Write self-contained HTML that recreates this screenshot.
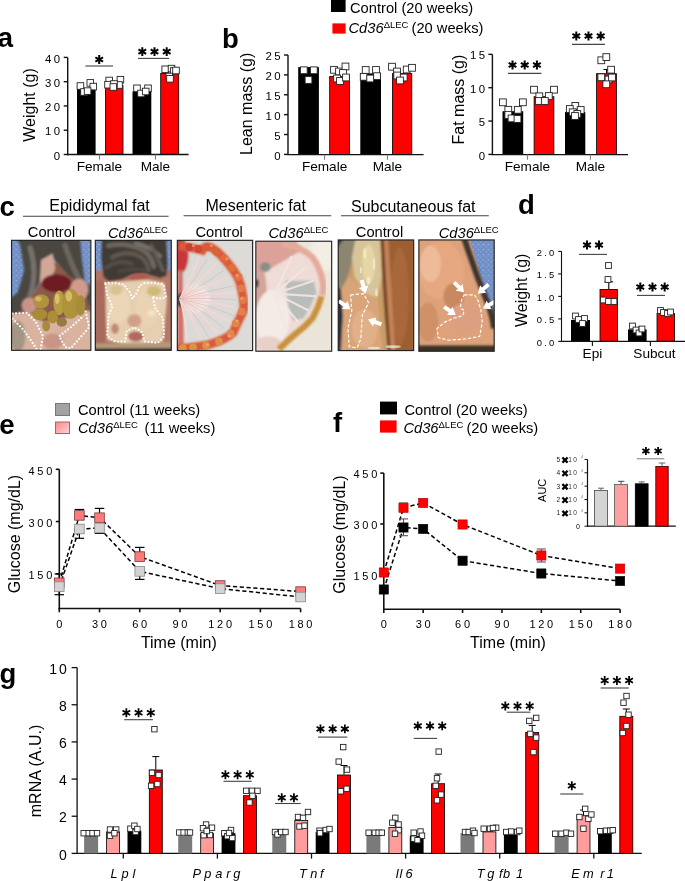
<!DOCTYPE html><html><head><meta charset="utf-8"><style>html,body{margin:0;padding:0;background:#fff;width:685px;height:881px;overflow:hidden}svg{display:block;will-change:transform}text{font-family:"Liberation Sans",sans-serif}</style></head><body>
<svg width="685" height="881" viewBox="0 0 685 881">
<rect width="685" height="881" fill="#fff"/>
<defs><linearGradient id="pinkgrad" x1="0" y1="0" x2="1" y2="1"><stop offset="0" stop-color="#ff8585"/><stop offset="1" stop-color="#ffd4d4"/></linearGradient></defs>
<text x="-2.2" y="47" font-size="27.5" text-anchor="start" font-weight="bold" font-style="normal" fill="#000">a</text>
<text x="222" y="47.7" font-size="27.5" text-anchor="start" font-weight="bold" font-style="normal" fill="#000">b</text>
<text x="-0.5" y="216" font-size="27.5" text-anchor="start" font-weight="bold" font-style="normal" fill="#000">c</text>
<text x="518" y="214" font-size="27.5" text-anchor="start" font-weight="bold" font-style="normal" fill="#000">d</text>
<text x="-0.8" y="434.4" font-size="27.5" text-anchor="start" font-weight="bold" font-style="normal" fill="#000">e</text>
<text x="333" y="432.4" font-size="27.5" text-anchor="start" font-weight="bold" font-style="normal" fill="#000">f</text>
<text x="-0.5" y="683" font-size="27.5" text-anchor="start" font-weight="bold" font-style="normal" fill="#000">g</text>
<line x1="67.7" y1="57.4" x2="67.7" y2="155.2" stroke="#111" stroke-width="1.4"/>
<line x1="63.7" y1="57.39999999999999" x2="67.7" y2="57.39999999999999" stroke="#111" stroke-width="1.4"/>
<text x="62.40" y="62.50" font-size="11.4" text-anchor="end" letter-spacing="2.4">40</text>
<line x1="63.7" y1="81.675" x2="67.7" y2="81.675" stroke="#111" stroke-width="1.4"/>
<text x="62.40" y="86.77" font-size="11.4" text-anchor="end" letter-spacing="2.4">30</text>
<line x1="63.7" y1="105.94999999999999" x2="67.7" y2="105.94999999999999" stroke="#111" stroke-width="1.4"/>
<text x="62.40" y="111.05" font-size="11.4" text-anchor="end" letter-spacing="2.4">20</text>
<line x1="63.7" y1="130.225" x2="67.7" y2="130.225" stroke="#111" stroke-width="1.4"/>
<text x="62.40" y="135.32" font-size="11.4" text-anchor="end" letter-spacing="2.4">10</text>
<line x1="63.7" y1="154.5" x2="67.7" y2="154.5" stroke="#111" stroke-width="1.4"/>
<text x="62.40" y="159.60" font-size="11.4" text-anchor="end" letter-spacing="2.4">0</text>
<text x="34.6" y="105" font-size="16" text-anchor="middle" font-weight="normal" font-style="normal" fill="#000" transform="rotate(-90 34.6 105)">Weight (g)</text>
<rect x="77.00" y="89.00" width="18.60" height="65.50" fill="#000"/>
<rect x="105.40" y="85.40" width="17.60" height="69.10" fill="#ff0000" stroke="#000" stroke-width="0.8"/>
<rect x="132.50" y="91.50" width="18.80" height="63.00" fill="#000"/>
<rect x="160.70" y="73.50" width="18.00" height="81.00" fill="#ff0000" stroke="#000" stroke-width="0.8"/>
<line x1="67.0" y1="154.5" x2="188.6" y2="154.5" stroke="#111" stroke-width="1.4"/>
<line x1="99.4" y1="154.5" x2="99.4" y2="159.7" stroke="#777" stroke-width="1.0"/>
<line x1="155.4" y1="154.5" x2="155.4" y2="159.7" stroke="#777" stroke-width="1.0"/>
<text x="99.4" y="171" font-size="13.6" text-anchor="middle" font-weight="normal" font-style="normal" fill="#000">Female</text>
<text x="155.4" y="171" font-size="13.6" text-anchor="middle" font-weight="normal" font-style="normal" fill="#000">Male</text>
<rect x="77.10" y="82.70" width="6.60" height="6.60" fill="#fff" stroke="#222" stroke-width="0.9"/>
<rect x="87.00" y="79.60" width="6.60" height="6.60" fill="#fff" stroke="#222" stroke-width="0.9"/>
<rect x="90.00" y="83.30" width="6.60" height="6.60" fill="#fff" stroke="#222" stroke-width="0.9"/>
<rect x="80.70" y="88.70" width="6.60" height="6.60" fill="#fff" stroke="#222" stroke-width="0.9"/>
<rect x="84.30" y="87.80" width="6.60" height="6.60" fill="#fff" stroke="#222" stroke-width="0.9"/>
<rect x="105.90" y="77.20" width="6.60" height="6.60" fill="#fff" stroke="#222" stroke-width="0.9"/>
<rect x="117.10" y="76.40" width="6.60" height="6.60" fill="#fff" stroke="#222" stroke-width="0.9"/>
<rect x="104.70" y="81.40" width="6.60" height="6.60" fill="#fff" stroke="#222" stroke-width="0.9"/>
<rect x="115.70" y="81.70" width="6.60" height="6.60" fill="#fff" stroke="#222" stroke-width="0.9"/>
<rect x="110.70" y="80.70" width="6.60" height="6.60" fill="#fff" stroke="#222" stroke-width="0.9"/>
<rect x="110.00" y="83.70" width="6.60" height="6.60" fill="#fff" stroke="#222" stroke-width="0.9"/>
<rect x="133.70" y="85.00" width="6.60" height="6.60" fill="#fff" stroke="#222" stroke-width="0.9"/>
<rect x="144.70" y="85.00" width="6.60" height="6.60" fill="#fff" stroke="#222" stroke-width="0.9"/>
<rect x="137.70" y="90.20" width="6.60" height="6.60" fill="#fff" stroke="#222" stroke-width="0.9"/>
<rect x="142.40" y="88.20" width="6.60" height="6.60" fill="#fff" stroke="#222" stroke-width="0.9"/>
<rect x="161.90" y="66.00" width="6.60" height="6.60" fill="#fff" stroke="#222" stroke-width="0.9"/>
<rect x="168.20" y="65.30" width="6.60" height="6.60" fill="#fff" stroke="#222" stroke-width="0.9"/>
<rect x="170.40" y="67.70" width="6.60" height="6.60" fill="#fff" stroke="#222" stroke-width="0.9"/>
<rect x="172.70" y="67.20" width="6.60" height="6.60" fill="#fff" stroke="#222" stroke-width="0.9"/>
<rect x="166.00" y="73.20" width="6.60" height="6.60" fill="#fff" stroke="#222" stroke-width="0.9"/>
<rect x="166.70" y="75.50" width="6.60" height="6.60" fill="#fff" stroke="#222" stroke-width="0.9"/>
<line x1="85.4" y1="66" x2="113" y2="66" stroke="#444" stroke-width="1.1"/>
<path d="M99.20 55.05L99.20 63.95M103.05 57.27L95.35 61.73M103.05 61.73L95.35 57.27" stroke="#000" stroke-width="2.0" stroke-linecap="butt" fill="none"/>
<line x1="138" y1="58.4" x2="169" y2="58.4" stroke="#444" stroke-width="1.1"/>
<path d="M142.30 47.15L142.30 56.05M146.15 49.38L138.45 53.83M146.15 53.83L138.45 49.38" stroke="#000" stroke-width="2.0" stroke-linecap="butt" fill="none"/>
<path d="M154.50 47.15L154.50 56.05M158.35 49.38L150.65 53.83M158.35 53.83L150.65 49.38" stroke="#000" stroke-width="2.0" stroke-linecap="butt" fill="none"/>
<path d="M166.70 47.15L166.70 56.05M170.55 49.38L162.85 53.83M170.55 53.83L162.85 49.38" stroke="#000" stroke-width="2.0" stroke-linecap="butt" fill="none"/>
<line x1="288" y1="55" x2="288" y2="155.1" stroke="#111" stroke-width="1.4"/>
<line x1="284" y1="55.0" x2="288" y2="55.0" stroke="#111" stroke-width="1.4"/>
<text x="282.90" y="60.10" font-size="11.4" text-anchor="end" letter-spacing="2.4">25</text>
<line x1="284" y1="74.88000000000001" x2="288" y2="74.88000000000001" stroke="#111" stroke-width="1.4"/>
<text x="282.90" y="79.98" font-size="11.4" text-anchor="end" letter-spacing="2.4">20</text>
<line x1="284" y1="94.76" x2="288" y2="94.76" stroke="#111" stroke-width="1.4"/>
<text x="282.90" y="99.86" font-size="11.4" text-anchor="end" letter-spacing="2.4">15</text>
<line x1="284" y1="114.64000000000001" x2="288" y2="114.64000000000001" stroke="#111" stroke-width="1.4"/>
<text x="282.90" y="119.74" font-size="11.4" text-anchor="end" letter-spacing="2.4">10</text>
<line x1="284" y1="134.52" x2="288" y2="134.52" stroke="#111" stroke-width="1.4"/>
<text x="282.90" y="139.62" font-size="11.4" text-anchor="end" letter-spacing="2.4">5</text>
<line x1="284" y1="154.4" x2="288" y2="154.4" stroke="#111" stroke-width="1.4"/>
<text x="282.90" y="159.50" font-size="11.4" text-anchor="end" letter-spacing="2.4">0</text>
<text x="252.2" y="103.8" font-size="16" text-anchor="middle" font-weight="normal" font-style="normal" fill="#000" transform="rotate(-90 252.2 103.8)">Lean mass (g)</text>
<rect x="298.20" y="67.10" width="20.70" height="87.30" fill="#000"/>
<rect x="329.70" y="76.40" width="19.70" height="78.00" fill="#ff0000" stroke="#000" stroke-width="0.8"/>
<rect x="360.30" y="73.40" width="20.70" height="81.00" fill="#000"/>
<rect x="392.40" y="73.60" width="19.40" height="80.80" fill="#ff0000" stroke="#000" stroke-width="0.8"/>
<line x1="287.3" y1="154.6" x2="423.6" y2="154.6" stroke="#111" stroke-width="1.4"/>
<line x1="324.6" y1="154.6" x2="324.6" y2="159.79999999999998" stroke="#777" stroke-width="1.0"/>
<line x1="387.4" y1="154.6" x2="387.4" y2="159.79999999999998" stroke="#777" stroke-width="1.0"/>
<text x="324.6" y="171" font-size="13.6" text-anchor="middle" font-weight="normal" font-style="normal" fill="#000">Female</text>
<text x="387.4" y="171" font-size="13.6" text-anchor="middle" font-weight="normal" font-style="normal" fill="#000">Male</text>
<rect x="300.40" y="66.90" width="6.80" height="6.80" fill="#fff" stroke="#222" stroke-width="0.9"/>
<rect x="310.40" y="66.90" width="6.80" height="6.80" fill="#fff" stroke="#222" stroke-width="0.9"/>
<rect x="305.10" y="76.60" width="6.80" height="6.80" fill="#fff" stroke="#222" stroke-width="0.9"/>
<rect x="330.60" y="66.40" width="6.80" height="6.80" fill="#fff" stroke="#222" stroke-width="0.9"/>
<rect x="335.60" y="68.10" width="6.80" height="6.80" fill="#fff" stroke="#222" stroke-width="0.9"/>
<rect x="342.10" y="63.10" width="6.80" height="6.80" fill="#fff" stroke="#222" stroke-width="0.9"/>
<rect x="339.60" y="69.60" width="6.80" height="6.80" fill="#fff" stroke="#222" stroke-width="0.9"/>
<rect x="333.60" y="75.10" width="6.80" height="6.80" fill="#fff" stroke="#222" stroke-width="0.9"/>
<rect x="336.60" y="77.60" width="6.80" height="6.80" fill="#fff" stroke="#222" stroke-width="0.9"/>
<rect x="342.60" y="74.10" width="6.80" height="6.80" fill="#fff" stroke="#222" stroke-width="0.9"/>
<rect x="362.30" y="66.60" width="6.80" height="6.80" fill="#fff" stroke="#222" stroke-width="0.9"/>
<rect x="372.60" y="66.60" width="6.80" height="6.80" fill="#fff" stroke="#222" stroke-width="0.9"/>
<rect x="360.30" y="73.40" width="6.80" height="6.80" fill="#fff" stroke="#222" stroke-width="0.9"/>
<rect x="373.60" y="72.80" width="6.80" height="6.80" fill="#fff" stroke="#222" stroke-width="0.9"/>
<rect x="366.80" y="75.10" width="6.80" height="6.80" fill="#fff" stroke="#222" stroke-width="0.9"/>
<rect x="388.60" y="63.30" width="6.80" height="6.80" fill="#fff" stroke="#222" stroke-width="0.9"/>
<rect x="393.60" y="68.10" width="6.80" height="6.80" fill="#fff" stroke="#222" stroke-width="0.9"/>
<rect x="403.30" y="66.10" width="6.80" height="6.80" fill="#fff" stroke="#222" stroke-width="0.9"/>
<rect x="408.60" y="64.40" width="6.80" height="6.80" fill="#fff" stroke="#222" stroke-width="0.9"/>
<rect x="393.80" y="72.10" width="6.80" height="6.80" fill="#fff" stroke="#222" stroke-width="0.9"/>
<rect x="400.30" y="74.10" width="6.80" height="6.80" fill="#fff" stroke="#222" stroke-width="0.9"/>
<rect x="396.60" y="77.10" width="6.80" height="6.80" fill="#fff" stroke="#222" stroke-width="0.9"/>
<line x1="492.4" y1="54.4" x2="492.4" y2="155.1" stroke="#111" stroke-width="1.4"/>
<line x1="488.4" y1="54.35000000000001" x2="492.4" y2="54.35000000000001" stroke="#111" stroke-width="1.4"/>
<text x="487.40" y="59.45" font-size="11.4" text-anchor="end" letter-spacing="2.4">15</text>
<line x1="488.4" y1="87.7" x2="492.4" y2="87.7" stroke="#111" stroke-width="1.4"/>
<text x="487.40" y="92.80" font-size="11.4" text-anchor="end" letter-spacing="2.4">10</text>
<line x1="488.4" y1="121.05000000000001" x2="492.4" y2="121.05000000000001" stroke="#111" stroke-width="1.4"/>
<text x="487.40" y="126.15" font-size="11.4" text-anchor="end" letter-spacing="2.4">5</text>
<line x1="488.4" y1="154.4" x2="492.4" y2="154.4" stroke="#111" stroke-width="1.4"/>
<text x="487.40" y="159.50" font-size="11.4" text-anchor="end" letter-spacing="2.4">0</text>
<text x="464" y="99.6" font-size="16" text-anchor="middle" font-weight="normal" font-style="normal" fill="#000" transform="rotate(-90 464 99.6)">Fat mass (g)</text>
<line x1="606.5" y1="73.3" x2="606.5" y2="69.5" stroke="#000" stroke-width="1.0"/>
<line x1="603.5" y1="69.5" x2="609.5" y2="69.5" stroke="#000" stroke-width="1.0"/>
<rect x="502.50" y="111.20" width="20.70" height="43.20" fill="#000"/>
<rect x="534.10" y="96.70" width="19.80" height="57.70" fill="#ff0000" stroke="#000" stroke-width="0.8"/>
<rect x="565.00" y="112.00" width="20.30" height="42.40" fill="#000"/>
<rect x="596.60" y="73.70" width="19.80" height="80.70" fill="#ff0000" stroke="#000" stroke-width="0.8"/>
<line x1="491.7" y1="154.6" x2="628" y2="154.6" stroke="#111" stroke-width="1.4"/>
<line x1="527.4" y1="154.6" x2="527.4" y2="159.79999999999998" stroke="#777" stroke-width="1.0"/>
<line x1="590.4" y1="154.6" x2="590.4" y2="159.79999999999998" stroke="#777" stroke-width="1.0"/>
<text x="527.4" y="171" font-size="13.6" text-anchor="middle" font-weight="normal" font-style="normal" fill="#000">Female</text>
<text x="590.4" y="171" font-size="13.6" text-anchor="middle" font-weight="normal" font-style="normal" fill="#000">Male</text>
<rect x="499.50" y="98.90" width="6.80" height="6.80" fill="#fff" stroke="#222" stroke-width="0.9"/>
<rect x="519.50" y="98.90" width="6.80" height="6.80" fill="#fff" stroke="#222" stroke-width="0.9"/>
<rect x="504.90" y="106.40" width="6.80" height="6.80" fill="#fff" stroke="#222" stroke-width="0.9"/>
<rect x="514.40" y="106.40" width="6.80" height="6.80" fill="#fff" stroke="#222" stroke-width="0.9"/>
<rect x="504.90" y="111.60" width="6.80" height="6.80" fill="#fff" stroke="#222" stroke-width="0.9"/>
<rect x="508.10" y="115.00" width="6.80" height="6.80" fill="#fff" stroke="#222" stroke-width="0.9"/>
<rect x="514.10" y="115.60" width="6.80" height="6.80" fill="#fff" stroke="#222" stroke-width="0.9"/>
<rect x="530.60" y="86.30" width="6.80" height="6.80" fill="#fff" stroke="#222" stroke-width="0.9"/>
<rect x="550.60" y="86.30" width="6.80" height="6.80" fill="#fff" stroke="#222" stroke-width="0.9"/>
<rect x="535.90" y="92.90" width="6.80" height="6.80" fill="#fff" stroke="#222" stroke-width="0.9"/>
<rect x="545.40" y="92.60" width="6.80" height="6.80" fill="#fff" stroke="#222" stroke-width="0.9"/>
<rect x="535.40" y="97.60" width="6.80" height="6.80" fill="#fff" stroke="#222" stroke-width="0.9"/>
<rect x="541.40" y="97.60" width="6.80" height="6.80" fill="#fff" stroke="#222" stroke-width="0.9"/>
<rect x="571.90" y="102.50" width="6.80" height="6.80" fill="#fff" stroke="#222" stroke-width="0.9"/>
<rect x="566.40" y="105.60" width="6.80" height="6.80" fill="#fff" stroke="#222" stroke-width="0.9"/>
<rect x="569.30" y="108.90" width="6.80" height="6.80" fill="#fff" stroke="#222" stroke-width="0.9"/>
<rect x="577.30" y="106.60" width="6.80" height="6.80" fill="#fff" stroke="#222" stroke-width="0.9"/>
<rect x="573.90" y="110.60" width="6.80" height="6.80" fill="#fff" stroke="#222" stroke-width="0.9"/>
<rect x="571.60" y="112.60" width="6.80" height="6.80" fill="#fff" stroke="#222" stroke-width="0.9"/>
<rect x="597.90" y="56.90" width="6.80" height="6.80" fill="#fff" stroke="#222" stroke-width="0.9"/>
<rect x="602.90" y="53.70" width="6.80" height="6.80" fill="#fff" stroke="#222" stroke-width="0.9"/>
<rect x="607.70" y="66.30" width="6.80" height="6.80" fill="#fff" stroke="#222" stroke-width="0.9"/>
<rect x="597.90" y="73.90" width="6.80" height="6.80" fill="#fff" stroke="#222" stroke-width="0.9"/>
<rect x="605.10" y="76.10" width="6.80" height="6.80" fill="#fff" stroke="#222" stroke-width="0.9"/>
<rect x="608.60" y="74.10" width="6.80" height="6.80" fill="#fff" stroke="#222" stroke-width="0.9"/>
<rect x="602.90" y="80.90" width="6.80" height="6.80" fill="#fff" stroke="#222" stroke-width="0.9"/>
<line x1="508" y1="73.4" x2="541.4" y2="73.4" stroke="#444" stroke-width="1.1"/>
<path d="M512.50 60.55L512.50 69.45M516.35 62.77L508.65 67.22M516.35 67.22L508.65 62.77" stroke="#000" stroke-width="2.0" stroke-linecap="butt" fill="none"/>
<path d="M524.70 60.55L524.70 69.45M528.55 62.77L520.85 67.22M528.55 67.22L520.85 62.77" stroke="#000" stroke-width="2.0" stroke-linecap="butt" fill="none"/>
<path d="M536.90 60.55L536.90 69.45M540.75 62.77L533.05 67.22M540.75 67.22L533.05 62.77" stroke="#000" stroke-width="2.0" stroke-linecap="butt" fill="none"/>
<line x1="572" y1="44.4" x2="605" y2="44.4" stroke="#444" stroke-width="1.1"/>
<path d="M576.30 31.55L576.30 40.45M580.15 33.77L572.45 38.23M580.15 38.23L572.45 33.77" stroke="#000" stroke-width="2.0" stroke-linecap="butt" fill="none"/>
<path d="M588.50 31.55L588.50 40.45M592.35 33.77L584.65 38.23M592.35 38.23L584.65 33.77" stroke="#000" stroke-width="2.0" stroke-linecap="butt" fill="none"/>
<path d="M600.70 31.55L600.70 40.45M604.55 33.77L596.85 38.23M604.55 38.23L596.85 33.77" stroke="#000" stroke-width="2.0" stroke-linecap="butt" fill="none"/>
<rect x="331.00" y="-1.00" width="14.60" height="13.00" fill="#000"/>
<rect x="332.40" y="23.40" width="13.20" height="10.20" fill="#ff0000"/>
<text x="350" y="13" font-size="14.7" text-anchor="start" font-weight="normal" font-style="normal" fill="#000">Control (20 weeks)</text>
<text x="348.5" y="33" font-size="14.7"><tspan font-style="italic">Cd36</tspan><tspan font-size="9.5" dy="-5">ΔLEC</tspan><tspan dy="5" dx="-1"> (20 weeks)</tspan></text>
<rect x="55.50" y="403.50" width="14.00" height="12.00" fill="#a2a2a2" stroke="#777" stroke-width="1"/>
<rect x="55.50" y="422.00" width="14.00" height="11.50" fill="url(#pinkgrad)" stroke="#9a6a6a" stroke-width="1"/>
<text x="78" y="414.8" font-size="14.7" text-anchor="start" font-weight="normal" font-style="normal" fill="#000">Control (11 weeks)</text>
<text x="78" y="433.2" font-size="14.7"><tspan font-style="italic">Cd36</tspan><tspan font-size="9.5" dy="-5">ΔLEC</tspan><tspan dy="5" dx="2.5"> (11 weeks)</tspan></text>
<rect x="380.00" y="401.60" width="17.00" height="12.80" fill="#000"/>
<rect x="380.00" y="420.40" width="16.60" height="12.20" fill="#ff0000"/>
<text x="404.5" y="414.6" font-size="14.7" text-anchor="start" font-weight="normal" font-style="normal" fill="#000">Control (20 weeks)</text>
<text x="403.4" y="433" font-size="14.7"><tspan font-style="italic">Cd36</tspan><tspan font-size="9.5" dy="-5">ΔLEC</tspan><tspan dy="5" dx="-1"> (20 weeks)</tspan></text>
<line x1="561.5" y1="251.3" x2="561.5" y2="341.95" stroke="#111" stroke-width="1.1"/>
<line x1="558.2" y1="251.39999999999998" x2="561.5" y2="251.39999999999998" stroke="#111" stroke-width="1.1"/>
<text x="556.40" y="255.70" font-size="9.4" text-anchor="end" letter-spacing="2.2">2.0</text>
<line x1="558.2" y1="273.9" x2="561.5" y2="273.9" stroke="#111" stroke-width="1.1"/>
<text x="556.40" y="278.20" font-size="9.4" text-anchor="end" letter-spacing="2.2">1.5</text>
<line x1="558.2" y1="296.4" x2="561.5" y2="296.4" stroke="#111" stroke-width="1.1"/>
<text x="556.40" y="300.70" font-size="9.4" text-anchor="end" letter-spacing="2.2">1.0</text>
<line x1="558.2" y1="318.9" x2="561.5" y2="318.9" stroke="#111" stroke-width="1.1"/>
<text x="556.40" y="323.20" font-size="9.4" text-anchor="end" letter-spacing="2.2">0.5</text>
<line x1="558.2" y1="341.4" x2="561.5" y2="341.4" stroke="#111" stroke-width="1.1"/>
<text x="556.40" y="345.70" font-size="9.4" text-anchor="end" letter-spacing="2.2">0.0</text>
<text x="527.4" y="290.3" font-size="16" text-anchor="middle" font-weight="normal" font-style="normal" fill="#000" transform="rotate(-90 527.4 290.3)">Weight (g)</text>
<line x1="608.8" y1="289" x2="608.8" y2="281.8" stroke="#000" stroke-width="1.1"/>
<line x1="604.55" y1="281.8" x2="613.05" y2="281.8" stroke="#000" stroke-width="1.1"/>
<rect x="571.00" y="320.00" width="19.00" height="21.40" fill="#000"/>
<rect x="600.00" y="289.40" width="17.60" height="52.00" fill="#ff0000" stroke="#000" stroke-width="0.8"/>
<rect x="628.00" y="329.40" width="18.60" height="12.00" fill="#000"/>
<rect x="657.00" y="313.40" width="17.60" height="28.00" fill="#ff0000" stroke="#000" stroke-width="0.8"/>
<line x1="560.95" y1="341.4" x2="686" y2="341.4" stroke="#111" stroke-width="1.1"/>
<line x1="592.4" y1="341.4" x2="592.4" y2="345.9" stroke="#111" stroke-width="1.1"/>
<line x1="650.4" y1="341.4" x2="650.4" y2="345.9" stroke="#111" stroke-width="1.1"/>
<text x="592.4" y="357.8" font-size="13.6" text-anchor="middle" font-weight="normal" font-style="normal" fill="#000">Epi</text>
<text x="654.5" y="357.8" font-size="13.6" text-anchor="middle" font-weight="normal" font-style="normal" fill="#000">Subcut</text>
<rect x="572.60" y="313.10" width="5.80" height="5.80" fill="#fff" stroke="#222" stroke-width="0.9"/>
<rect x="575.60" y="316.60" width="5.80" height="5.80" fill="#fff" stroke="#222" stroke-width="0.9"/>
<rect x="581.60" y="315.60" width="5.80" height="5.80" fill="#fff" stroke="#222" stroke-width="0.9"/>
<rect x="579.60" y="320.60" width="5.80" height="5.80" fill="#fff" stroke="#222" stroke-width="0.9"/>
<rect x="605.60" y="262.60" width="5.80" height="5.80" fill="#fff" stroke="#222" stroke-width="0.9"/>
<rect x="605.10" y="276.60" width="5.80" height="5.80" fill="#fff" stroke="#222" stroke-width="0.9"/>
<rect x="600.60" y="297.10" width="5.80" height="5.80" fill="#fff" stroke="#222" stroke-width="0.9"/>
<rect x="605.60" y="298.60" width="5.80" height="5.80" fill="#fff" stroke="#222" stroke-width="0.9"/>
<rect x="611.10" y="298.60" width="5.80" height="5.80" fill="#fff" stroke="#222" stroke-width="0.9"/>
<rect x="629.60" y="323.10" width="5.80" height="5.80" fill="#fff" stroke="#222" stroke-width="0.9"/>
<rect x="633.10" y="327.10" width="5.80" height="5.80" fill="#fff" stroke="#222" stroke-width="0.9"/>
<rect x="636.10" y="330.10" width="5.80" height="5.80" fill="#fff" stroke="#222" stroke-width="0.9"/>
<rect x="639.10" y="326.10" width="5.80" height="5.80" fill="#fff" stroke="#222" stroke-width="0.9"/>
<rect x="657.60" y="307.60" width="5.80" height="5.80" fill="#fff" stroke="#222" stroke-width="0.9"/>
<rect x="660.60" y="309.60" width="5.80" height="5.80" fill="#fff" stroke="#222" stroke-width="0.9"/>
<rect x="664.60" y="310.60" width="5.80" height="5.80" fill="#fff" stroke="#222" stroke-width="0.9"/>
<rect x="667.60" y="309.10" width="5.80" height="5.80" fill="#fff" stroke="#222" stroke-width="0.9"/>
<line x1="579" y1="254.4" x2="607" y2="254.4" stroke="#444" stroke-width="1.1"/>
<path d="M587.00 240.55L587.00 249.45M590.85 242.78L583.15 247.22M590.85 247.22L583.15 242.78" stroke="#000" stroke-width="2.0" stroke-linecap="butt" fill="none"/>
<path d="M599.00 240.55L599.00 249.45M602.85 242.78L595.15 247.22M602.85 247.22L595.15 242.78" stroke="#000" stroke-width="2.0" stroke-linecap="butt" fill="none"/>
<line x1="637" y1="295.4" x2="665" y2="295.4" stroke="#444" stroke-width="1.1"/>
<path d="M640.30 282.55L640.30 291.45M644.15 284.77L636.45 289.23M644.15 289.23L636.45 284.77" stroke="#000" stroke-width="2.0" stroke-linecap="butt" fill="none"/>
<path d="M652.50 282.55L652.50 291.45M656.35 284.77L648.65 289.23M656.35 289.23L648.65 284.77" stroke="#000" stroke-width="2.0" stroke-linecap="butt" fill="none"/>
<path d="M664.70 282.55L664.70 291.45M668.55 284.77L660.85 289.23M668.55 289.23L660.85 284.77" stroke="#000" stroke-width="2.0" stroke-linecap="butt" fill="none"/>
<line x1="59.3" y1="469.3" x2="59.3" y2="609.3" stroke="#111" stroke-width="1.6"/>
<line x1="55.8" y1="469.3" x2="59.3" y2="469.3" stroke="#111" stroke-width="1.6"/>
<text x="55.00" y="474.60" font-size="11" text-anchor="end" letter-spacing="2.7">450</text>
<line x1="55.8" y1="521.545" x2="59.3" y2="521.545" stroke="#111" stroke-width="1.6"/>
<text x="55.00" y="526.84" font-size="11" text-anchor="end" letter-spacing="2.7">300</text>
<line x1="55.8" y1="573.79" x2="59.3" y2="573.79" stroke="#111" stroke-width="1.6"/>
<text x="55.00" y="579.09" font-size="11" text-anchor="end" letter-spacing="2.7">150</text>
<line x1="58.5" y1="608.5" x2="300.608" y2="608.5" stroke="#111" stroke-width="1.6"/>
<line x1="59.3" y1="608.5" x2="59.3" y2="612.3" stroke="#111" stroke-width="1.6"/>
<line x1="99.518" y1="608.5" x2="99.518" y2="612.3" stroke="#111" stroke-width="1.6"/>
<line x1="139.736" y1="608.5" x2="139.736" y2="612.3" stroke="#111" stroke-width="1.6"/>
<line x1="179.954" y1="608.5" x2="179.954" y2="612.3" stroke="#111" stroke-width="1.6"/>
<line x1="220.17200000000003" y1="608.5" x2="220.17200000000003" y2="612.3" stroke="#111" stroke-width="1.6"/>
<line x1="260.39" y1="608.5" x2="260.39" y2="612.3" stroke="#111" stroke-width="1.6"/>
<line x1="300.608" y1="608.5" x2="300.608" y2="612.3" stroke="#111" stroke-width="1.6"/>
<text x="60.65" y="627.50" font-size="11" text-anchor="middle" letter-spacing="2.7">0</text>
<text x="100.87" y="627.50" font-size="11" text-anchor="middle" letter-spacing="2.7">30</text>
<text x="141.09" y="627.50" font-size="11" text-anchor="middle" letter-spacing="2.7">60</text>
<text x="181.30" y="627.50" font-size="11" text-anchor="middle" letter-spacing="2.7">90</text>
<text x="221.52" y="627.50" font-size="11" text-anchor="middle" letter-spacing="2.7">120</text>
<text x="261.74" y="627.50" font-size="11" text-anchor="middle" letter-spacing="2.7">150</text>
<text x="301.96" y="627.50" font-size="11" text-anchor="middle" letter-spacing="2.7">180</text>
<text x="178.8" y="648" font-size="16" text-anchor="middle" font-weight="normal" font-style="normal" fill="#000">Time (min)</text>
<text x="19.8" y="534" font-size="16" text-anchor="middle" font-weight="normal" font-style="normal" fill="#000" transform="rotate(-90 19.8 534)">Glucose (mg/dL)</text>
<polyline points="59.30,582.80 79.41,515.40 99.52,517.70 139.74,556.60 220.17,585.50 300.61,591.60" fill="none" stroke="#000" stroke-width="1.5" stroke-dasharray="4.2 2.6"/>
<polyline points="59.30,586.60 79.41,529.00 99.52,528.00 139.74,571.40 220.17,588.60 300.61,597.00" fill="none" stroke="#000" stroke-width="1.5" stroke-dasharray="4.2 2.6"/>
<line x1="59.3" y1="582.8" x2="59.3" y2="574" stroke="#000" stroke-width="1.2"/>
<line x1="54.55" y1="574" x2="64.05" y2="574" stroke="#000" stroke-width="1.2"/>
<line x1="79.40899999999999" y1="515.4" x2="79.40899999999999" y2="509.5" stroke="#000" stroke-width="1.2"/>
<line x1="74.65899999999999" y1="509.5" x2="84.15899999999999" y2="509.5" stroke="#000" stroke-width="1.2"/>
<line x1="99.518" y1="517.7" x2="99.518" y2="508.4" stroke="#000" stroke-width="1.2"/>
<line x1="94.768" y1="508.4" x2="104.268" y2="508.4" stroke="#000" stroke-width="1.2"/>
<line x1="139.736" y1="556.6" x2="139.736" y2="547.4" stroke="#000" stroke-width="1.2"/>
<line x1="134.986" y1="547.4" x2="144.486" y2="547.4" stroke="#000" stroke-width="1.2"/>
<line x1="220.17200000000003" y1="585.5" x2="220.17200000000003" y2="583.5" stroke="#000" stroke-width="1.2"/>
<line x1="215.42200000000003" y1="583.5" x2="224.92200000000003" y2="583.5" stroke="#000" stroke-width="1.2"/>
<line x1="300.608" y1="591.6" x2="300.608" y2="589.5" stroke="#000" stroke-width="1.2"/>
<line x1="295.858" y1="589.5" x2="305.358" y2="589.5" stroke="#000" stroke-width="1.2"/>
<line x1="59.3" y1="586.6" x2="59.3" y2="594.7" stroke="#000" stroke-width="1.2"/>
<line x1="54.55" y1="594.7" x2="64.05" y2="594.7" stroke="#000" stroke-width="1.2"/>
<line x1="79.40899999999999" y1="529" x2="79.40899999999999" y2="538.3" stroke="#000" stroke-width="1.2"/>
<line x1="74.65899999999999" y1="538.3" x2="84.15899999999999" y2="538.3" stroke="#000" stroke-width="1.2"/>
<line x1="99.518" y1="528" x2="99.518" y2="533.4" stroke="#000" stroke-width="1.2"/>
<line x1="94.768" y1="533.4" x2="104.268" y2="533.4" stroke="#000" stroke-width="1.2"/>
<line x1="139.736" y1="571.4" x2="139.736" y2="579.4" stroke="#000" stroke-width="1.2"/>
<line x1="134.986" y1="579.4" x2="144.486" y2="579.4" stroke="#000" stroke-width="1.2"/>
<line x1="220.17200000000003" y1="588.6" x2="220.17200000000003" y2="590" stroke="#000" stroke-width="1.2"/>
<line x1="215.42200000000003" y1="590" x2="224.92200000000003" y2="590" stroke="#000" stroke-width="1.2"/>
<line x1="300.608" y1="597" x2="300.608" y2="598" stroke="#000" stroke-width="1.2"/>
<line x1="295.858" y1="598" x2="305.358" y2="598" stroke="#000" stroke-width="1.2"/>
<rect x="54.50" y="578.00" width="9.60" height="9.60" fill="#ff7b7b" stroke="#7a3a3a" stroke-width="0.8"/>
<rect x="74.61" y="510.60" width="9.60" height="9.60" fill="#ff7b7b" stroke="#7a3a3a" stroke-width="0.8"/>
<rect x="94.72" y="512.90" width="9.60" height="9.60" fill="#ff7b7b" stroke="#7a3a3a" stroke-width="0.8"/>
<rect x="134.94" y="551.80" width="9.60" height="9.60" fill="#ff7b7b" stroke="#7a3a3a" stroke-width="0.8"/>
<rect x="215.37" y="580.70" width="9.60" height="9.60" fill="#ff7b7b" stroke="#7a3a3a" stroke-width="0.8"/>
<rect x="295.81" y="586.80" width="9.60" height="9.60" fill="#ff7b7b" stroke="#7a3a3a" stroke-width="0.8"/>
<rect x="54.50" y="581.80" width="9.60" height="9.60" fill="#d3d3d3" stroke="#888" stroke-width="0.8"/>
<rect x="74.61" y="524.20" width="9.60" height="9.60" fill="#d3d3d3" stroke="#888" stroke-width="0.8"/>
<rect x="94.72" y="523.20" width="9.60" height="9.60" fill="#d3d3d3" stroke="#888" stroke-width="0.8"/>
<rect x="134.94" y="566.60" width="9.60" height="9.60" fill="#d3d3d3" stroke="#888" stroke-width="0.8"/>
<rect x="215.37" y="583.80" width="9.60" height="9.60" fill="#d3d3d3" stroke="#888" stroke-width="0.8"/>
<rect x="295.81" y="592.20" width="9.60" height="9.60" fill="#d3d3d3" stroke="#888" stroke-width="0.8"/>
<line x1="383.8" y1="473.1" x2="383.8" y2="610.0" stroke="#111" stroke-width="1.6"/>
<line x1="380.3" y1="473.1" x2="383.8" y2="473.1" stroke="#111" stroke-width="1.6"/>
<text x="380.00" y="478.40" font-size="11" text-anchor="end" letter-spacing="2.7">450</text>
<line x1="380.3" y1="523.995" x2="383.8" y2="523.995" stroke="#111" stroke-width="1.6"/>
<text x="380.00" y="529.29" font-size="11" text-anchor="end" letter-spacing="2.7">300</text>
<line x1="380.3" y1="574.89" x2="383.8" y2="574.89" stroke="#111" stroke-width="1.6"/>
<text x="380.00" y="580.19" font-size="11" text-anchor="end" letter-spacing="2.7">150</text>
<line x1="383.0" y1="609.2" x2="620.104" y2="609.2" stroke="#111" stroke-width="1.6"/>
<line x1="383.8" y1="609.2" x2="383.8" y2="613.0" stroke="#111" stroke-width="1.6"/>
<line x1="423.184" y1="609.2" x2="423.184" y2="613.0" stroke="#111" stroke-width="1.6"/>
<line x1="462.568" y1="609.2" x2="462.568" y2="613.0" stroke="#111" stroke-width="1.6"/>
<line x1="501.952" y1="609.2" x2="501.952" y2="613.0" stroke="#111" stroke-width="1.6"/>
<line x1="541.336" y1="609.2" x2="541.336" y2="613.0" stroke="#111" stroke-width="1.6"/>
<line x1="580.72" y1="609.2" x2="580.72" y2="613.0" stroke="#111" stroke-width="1.6"/>
<line x1="620.104" y1="609.2" x2="620.104" y2="613.0" stroke="#111" stroke-width="1.6"/>
<text x="385.15" y="627.50" font-size="11" text-anchor="middle" letter-spacing="2.7">0</text>
<text x="424.53" y="627.50" font-size="11" text-anchor="middle" letter-spacing="2.7">30</text>
<text x="463.92" y="627.50" font-size="11" text-anchor="middle" letter-spacing="2.7">60</text>
<text x="503.30" y="627.50" font-size="11" text-anchor="middle" letter-spacing="2.7">90</text>
<text x="542.69" y="627.50" font-size="11" text-anchor="middle" letter-spacing="2.7">120</text>
<text x="582.07" y="627.50" font-size="11" text-anchor="middle" letter-spacing="2.7">150</text>
<text x="621.45" y="627.50" font-size="11" text-anchor="middle" letter-spacing="2.7">180</text>
<text x="508" y="647.5" font-size="16" text-anchor="middle" font-weight="normal" font-style="normal" fill="#000">Time (min)</text>
<text x="345" y="534.5" font-size="16" text-anchor="middle" font-weight="normal" font-style="normal" fill="#000" transform="rotate(-90 345 534.5)">Glucose (mg/dL)</text>
<polyline points="383.80,572.50 403.49,507.80 423.18,502.90 462.57,524.50 541.34,555.50 620.10,568.60" fill="none" stroke="#000" stroke-width="1.5" stroke-dasharray="4.2 2.6"/>
<polyline points="383.80,589.50 403.49,527.50 423.18,528.90 462.57,560.70 541.34,573.50 620.10,581.00" fill="none" stroke="#000" stroke-width="1.5" stroke-dasharray="4.2 2.6"/>
<line x1="403.492" y1="527.5" x2="403.492" y2="518.9" stroke="#555" stroke-width="1.1"/>
<line x1="398.992" y1="518.9" x2="407.992" y2="518.9" stroke="#555" stroke-width="1.1"/>
<line x1="403.492" y1="527.5" x2="403.492" y2="535.7" stroke="#555" stroke-width="1.1"/>
<line x1="398.992" y1="535.7" x2="407.992" y2="535.7" stroke="#555" stroke-width="1.1"/>
<line x1="541.336" y1="555.5" x2="541.336" y2="549" stroke="#555" stroke-width="1.1"/>
<line x1="536.836" y1="549" x2="545.836" y2="549" stroke="#555" stroke-width="1.1"/>
<line x1="403.492" y1="507.8" x2="403.492" y2="502.8" stroke="#777" stroke-width="1.1"/>
<line x1="398.992" y1="502.8" x2="407.992" y2="502.8" stroke="#777" stroke-width="1.1"/>
<line x1="541.336" y1="555.5" x2="541.336" y2="562" stroke="#555" stroke-width="1.1"/>
<line x1="536.836" y1="562" x2="545.836" y2="562" stroke="#555" stroke-width="1.1"/>
<rect x="379.20" y="567.90" width="9.20" height="9.20" fill="#ff0000" stroke="#a00" stroke-width="0.6"/>
<rect x="398.89" y="503.20" width="9.20" height="9.20" fill="#ff0000" stroke="#a00" stroke-width="0.6"/>
<rect x="418.58" y="498.30" width="9.20" height="9.20" fill="#ff0000" stroke="#a00" stroke-width="0.6"/>
<rect x="457.97" y="519.90" width="9.20" height="9.20" fill="#ff0000" stroke="#a00" stroke-width="0.6"/>
<rect x="536.74" y="550.90" width="9.20" height="9.20" fill="#ff0000" stroke="#a00" stroke-width="0.6"/>
<rect x="615.50" y="564.00" width="9.20" height="9.20" fill="#ff0000" stroke="#a00" stroke-width="0.6"/>
<rect x="379.20" y="584.90" width="9.20" height="9.20" fill="#000" stroke="#000" stroke-width="0.6"/>
<rect x="398.89" y="522.90" width="9.20" height="9.20" fill="#000" stroke="#000" stroke-width="0.6"/>
<rect x="418.58" y="524.30" width="9.20" height="9.20" fill="#000" stroke="#000" stroke-width="0.6"/>
<rect x="457.97" y="556.10" width="9.20" height="9.20" fill="#000" stroke="#000" stroke-width="0.6"/>
<rect x="536.74" y="568.90" width="9.20" height="9.20" fill="#000" stroke="#000" stroke-width="0.6"/>
<rect x="615.50" y="576.40" width="9.20" height="9.20" fill="#000" stroke="#000" stroke-width="0.6"/>
<line x1="587.5" y1="459.4" x2="587.5" y2="526.8" stroke="#111" stroke-width="1.2"/>
<line x1="584.5" y1="526.2" x2="587.5" y2="526.2" stroke="#111" stroke-width="1.0"/>
<line x1="584.5" y1="512.85" x2="587.5" y2="512.85" stroke="#111" stroke-width="1.0"/>
<line x1="584.5" y1="499.50000000000006" x2="587.5" y2="499.50000000000006" stroke="#111" stroke-width="1.0"/>
<line x1="584.5" y1="486.15000000000003" x2="587.5" y2="486.15000000000003" stroke="#111" stroke-width="1.0"/>
<line x1="584.5" y1="472.80000000000007" x2="587.5" y2="472.80000000000007" stroke="#111" stroke-width="1.0"/>
<line x1="584.5" y1="459.45000000000005" x2="587.5" y2="459.45000000000005" stroke="#111" stroke-width="1.0"/>
<text x="580" y="529.40" font-size="7" text-anchor="end">0</text>
<text x="556.6" y="515.45" font-size="6.6" fill="#222">1</text>
<path d="M562.40 510.85L567.60 516.05M567.60 510.85L562.40 516.05" stroke="#000" stroke-width="2.2"/>
<text x="568.3" y="515.45" font-size="6.6" letter-spacing="1.2" fill="#333">10</text>
<text x="581" y="511.65" font-size="4" fill="#777">4</text>
<text x="556.6" y="502.10" font-size="6.6" fill="#222">2</text>
<path d="M562.40 497.50L567.60 502.70M567.60 497.50L562.40 502.70" stroke="#000" stroke-width="2.2"/>
<text x="568.3" y="502.10" font-size="6.6" letter-spacing="1.2" fill="#333">10</text>
<text x="581" y="498.30" font-size="4" fill="#777">4</text>
<text x="556.6" y="488.75" font-size="6.6" fill="#222">3</text>
<path d="M562.40 484.15L567.60 489.35M567.60 484.15L562.40 489.35" stroke="#000" stroke-width="2.2"/>
<text x="568.3" y="488.75" font-size="6.6" letter-spacing="1.2" fill="#333">10</text>
<text x="581" y="484.95" font-size="4" fill="#777">4</text>
<text x="556.6" y="475.40" font-size="6.6" fill="#222">4</text>
<path d="M562.40 470.80L567.60 476.00M567.60 470.80L562.40 476.00" stroke="#000" stroke-width="2.2"/>
<text x="568.3" y="475.40" font-size="6.6" letter-spacing="1.2" fill="#333">10</text>
<text x="581" y="471.60" font-size="4" fill="#777">4</text>
<text x="556.6" y="462.05" font-size="6.6" fill="#222">5</text>
<path d="M562.40 457.45L567.60 462.65M567.60 457.45L562.40 462.65" stroke="#000" stroke-width="2.2"/>
<text x="568.3" y="462.05" font-size="6.6" letter-spacing="1.2" fill="#333">10</text>
<text x="581" y="458.25" font-size="4" fill="#777">4</text>
<text x="546" y="490.3" font-size="11" text-anchor="middle" font-weight="normal" font-style="normal" fill="#000" transform="rotate(-90 546 490.3)">AUC</text>
<line x1="587" y1="526.2" x2="675.8" y2="526.2" stroke="#111" stroke-width="1.2"/>
<line x1="601" y1="490" x2="601" y2="488.2" stroke="#555" stroke-width="0.9"/>
<line x1="598.0" y1="488.2" x2="604.0" y2="488.2" stroke="#555" stroke-width="0.9"/>
<line x1="621.1" y1="484.1" x2="621.1" y2="481.3" stroke="#333" stroke-width="0.9"/>
<line x1="617.85" y1="481.3" x2="624.35" y2="481.3" stroke="#333" stroke-width="0.9"/>
<line x1="641.7" y1="483.4" x2="641.7" y2="481.9" stroke="#555" stroke-width="0.9"/>
<line x1="638.7" y1="481.9" x2="644.7" y2="481.9" stroke="#555" stroke-width="0.9"/>
<line x1="662" y1="466" x2="662" y2="463" stroke="#555" stroke-width="0.9"/>
<line x1="658.75" y1="463" x2="665.25" y2="463" stroke="#555" stroke-width="0.9"/>
<rect x="594.60" y="490.40" width="12.90" height="35.80" fill="#d4d4d4" stroke="#444" stroke-width="0.8"/>
<rect x="614.60" y="484.50" width="13.00" height="41.70" fill="#ff9f9f" stroke="#555" stroke-width="0.8"/>
<rect x="635.30" y="483.80" width="12.80" height="42.40" fill="#000" stroke="#000" stroke-width="0.8"/>
<rect x="655.80" y="466.40" width="12.40" height="59.80" fill="#ff0000" stroke="#300" stroke-width="0.8"/>
<line x1="636.8" y1="458.7" x2="664.3" y2="458.7" stroke="#999" stroke-width="1.3"/>
<path d="M645.90 446.90L645.90 455.10M649.45 448.95L642.35 453.05M649.45 453.05L642.35 448.95" stroke="#000" stroke-width="1.8" stroke-linecap="butt" fill="none"/>
<path d="M658.10 446.90L658.10 455.10M661.65 448.95L654.55 453.05M661.65 453.05L654.55 448.95" stroke="#000" stroke-width="1.8" stroke-linecap="butt" fill="none"/>
<line x1="77.1" y1="667.6" x2="77.1" y2="854.05" stroke="#111" stroke-width="1.3"/>
<line x1="71.6" y1="667.6" x2="77.1" y2="667.6" stroke="#111" stroke-width="1.3"/>
<text x="68.80" y="673.70" font-size="14" text-anchor="end" letter-spacing="2.0">10</text>
<line x1="71.6" y1="704.76" x2="77.1" y2="704.76" stroke="#111" stroke-width="1.3"/>
<text x="68.80" y="710.86" font-size="14" text-anchor="end" letter-spacing="2.0">8</text>
<line x1="71.6" y1="741.92" x2="77.1" y2="741.92" stroke="#111" stroke-width="1.3"/>
<text x="68.80" y="748.02" font-size="14" text-anchor="end" letter-spacing="2.0">6</text>
<line x1="71.6" y1="779.0799999999999" x2="77.1" y2="779.0799999999999" stroke="#111" stroke-width="1.3"/>
<text x="68.80" y="785.18" font-size="14" text-anchor="end" letter-spacing="2.0">4</text>
<line x1="71.6" y1="816.24" x2="77.1" y2="816.24" stroke="#111" stroke-width="1.3"/>
<text x="68.80" y="822.34" font-size="14" text-anchor="end" letter-spacing="2.0">2</text>
<line x1="71.6" y1="853.4" x2="77.1" y2="853.4" stroke="#111" stroke-width="1.3"/>
<text x="68.80" y="859.50" font-size="14" text-anchor="end" letter-spacing="2.0">0</text>
<text x="41" y="771" font-size="16" text-anchor="middle" font-weight="normal" font-style="normal" fill="#000" transform="rotate(-90 41 771)">mRNA (A.U.)</text>
<line x1="76.44999999999999" y1="853.4" x2="641.8" y2="853.4" stroke="#111" stroke-width="1.3"/>
<line x1="123.3" y1="853.4" x2="123.3" y2="858.6" stroke="#111" stroke-width="1.3"/>
<line x1="217.39999999999998" y1="853.4" x2="217.39999999999998" y2="858.6" stroke="#111" stroke-width="1.3"/>
<line x1="311.5" y1="853.4" x2="311.5" y2="858.6" stroke="#111" stroke-width="1.3"/>
<line x1="405.59999999999997" y1="853.4" x2="405.59999999999997" y2="858.6" stroke="#111" stroke-width="1.3"/>
<line x1="499.7" y1="853.4" x2="499.7" y2="858.6" stroke="#111" stroke-width="1.3"/>
<line x1="593.8" y1="853.4" x2="593.8" y2="858.6" stroke="#111" stroke-width="1.3"/>
<text x="110.6 121.5 132.4" y="877.6" font-size="12.8" font-style="italic">Lpl</text>
<text x="192.6 204.3 215.2 226.2 233.2" y="877.6" font-size="12.8" font-style="italic">Pparg</text>
<text x="298.9 310.3 320.1" y="877.6" font-size="12.8" font-style="italic">Tnf</text>
<text x="395.6 399.6 405.5" y="877.6" font-size="12.8" font-style="italic">Il6</text>
<text x="476.7 487.2 499.0 503.0 516.1" y="877.6" font-size="12.8" font-style="italic">Tgfb1</text>
<text x="571.3 583.1 600.2 606.7" y="877.6" font-size="12.8" font-style="italic">Emr1</text>
<line x1="155.8" y1="769.6" x2="155.8" y2="756.6" stroke="#000" stroke-width="1.0"/>
<line x1="152.3" y1="756.6" x2="159.3" y2="756.6" stroke="#000" stroke-width="1.0"/>
<rect x="84.10" y="835.70" width="14.00" height="17.70" fill="#7a7a7a"/>
<rect x="106.60" y="831.90" width="12.90" height="21.50" fill="#ff9d9d" stroke="#000" stroke-width="0.8"/>
<rect x="127.50" y="830.70" width="13.80" height="22.70" fill="#000"/>
<rect x="149.30" y="770.00" width="13.00" height="83.40" fill="#ff0000" stroke="#000" stroke-width="0.8"/>
<line x1="249.89999999999998" y1="795.3" x2="249.89999999999998" y2="790.5" stroke="#000" stroke-width="1.0"/>
<line x1="246.39999999999998" y1="790.5" x2="253.39999999999998" y2="790.5" stroke="#000" stroke-width="1.0"/>
<rect x="178.20" y="835.70" width="14.00" height="17.70" fill="#7a7a7a"/>
<rect x="200.70" y="833.60" width="12.90" height="19.80" fill="#ff9d9d" stroke="#000" stroke-width="0.8"/>
<rect x="221.60" y="833.20" width="13.80" height="20.20" fill="#000"/>
<rect x="243.40" y="795.70" width="13.00" height="57.70" fill="#ff0000" stroke="#000" stroke-width="0.8"/>
<line x1="344.0" y1="774.6" x2="344.0" y2="765.5" stroke="#000" stroke-width="1.0"/>
<line x1="340.5" y1="765.5" x2="347.5" y2="765.5" stroke="#000" stroke-width="1.0"/>
<line x1="301.25" y1="820" x2="301.25" y2="815.5" stroke="#000" stroke-width="1.0"/>
<line x1="297.75" y1="815.5" x2="304.75" y2="815.5" stroke="#000" stroke-width="1.0"/>
<rect x="272.30" y="834.50" width="14.00" height="18.90" fill="#7a7a7a"/>
<rect x="294.80" y="820.40" width="12.90" height="33.00" fill="#ff9d9d" stroke="#000" stroke-width="0.8"/>
<rect x="315.70" y="832.00" width="13.80" height="21.40" fill="#000"/>
<rect x="337.50" y="775.00" width="13.00" height="78.40" fill="#ff0000" stroke="#000" stroke-width="0.8"/>
<line x1="438.09999999999997" y1="783.3" x2="438.09999999999997" y2="774" stroke="#000" stroke-width="1.0"/>
<line x1="434.59999999999997" y1="774" x2="441.59999999999997" y2="774" stroke="#000" stroke-width="1.0"/>
<line x1="395.34999999999997" y1="827" x2="395.34999999999997" y2="822" stroke="#000" stroke-width="1.0"/>
<line x1="391.84999999999997" y1="822" x2="398.84999999999997" y2="822" stroke="#000" stroke-width="1.0"/>
<rect x="366.40" y="834.50" width="14.00" height="18.90" fill="#7a7a7a"/>
<rect x="388.90" y="827.40" width="12.90" height="26.00" fill="#ff9d9d" stroke="#000" stroke-width="0.8"/>
<rect x="409.80" y="835.70" width="13.80" height="17.70" fill="#000"/>
<rect x="431.60" y="783.70" width="13.00" height="69.70" fill="#ff0000" stroke="#000" stroke-width="0.8"/>
<line x1="532.2" y1="732.1" x2="532.2" y2="725.4" stroke="#000" stroke-width="1.0"/>
<line x1="528.7" y1="725.4" x2="535.7" y2="725.4" stroke="#000" stroke-width="1.0"/>
<rect x="460.50" y="833.20" width="14.00" height="20.20" fill="#7a7a7a"/>
<rect x="483.00" y="831.90" width="12.90" height="21.50" fill="#ff9d9d" stroke="#000" stroke-width="0.8"/>
<rect x="503.90" y="834.50" width="13.80" height="18.90" fill="#000"/>
<rect x="525.70" y="732.50" width="13.00" height="120.90" fill="#ff0000" stroke="#000" stroke-width="0.8"/>
<line x1="626.3" y1="715.9" x2="626.3" y2="709" stroke="#000" stroke-width="1.0"/>
<line x1="622.8" y1="709" x2="629.8" y2="709" stroke="#000" stroke-width="1.0"/>
<line x1="583.55" y1="815.3" x2="583.55" y2="810" stroke="#000" stroke-width="1.0"/>
<line x1="580.05" y1="810" x2="587.05" y2="810" stroke="#000" stroke-width="1.0"/>
<rect x="554.60" y="835.70" width="14.00" height="17.70" fill="#7a7a7a"/>
<rect x="577.10" y="815.70" width="12.90" height="37.70" fill="#ff9d9d" stroke="#000" stroke-width="0.8"/>
<rect x="598.00" y="830.70" width="13.80" height="22.70" fill="#000"/>
<rect x="619.80" y="716.30" width="13.00" height="137.10" fill="#ff0000" stroke="#000" stroke-width="0.8"/>
<rect x="81.00" y="830.50" width="5.40" height="5.40" fill="#fff" stroke="#222" stroke-width="0.9"/>
<rect x="86.00" y="830.50" width="5.40" height="5.40" fill="#fff" stroke="#222" stroke-width="0.9"/>
<rect x="89.80" y="830.50" width="5.40" height="5.40" fill="#fff" stroke="#222" stroke-width="0.9"/>
<rect x="94.30" y="830.50" width="5.40" height="5.40" fill="#fff" stroke="#222" stroke-width="0.9"/>
<rect x="107.30" y="826.80" width="5.40" height="5.40" fill="#fff" stroke="#222" stroke-width="0.9"/>
<rect x="113.50" y="826.80" width="5.40" height="5.40" fill="#fff" stroke="#222" stroke-width="0.9"/>
<rect x="107.30" y="833.00" width="5.40" height="5.40" fill="#fff" stroke="#222" stroke-width="0.9"/>
<rect x="111.70" y="830.50" width="5.40" height="5.40" fill="#fff" stroke="#222" stroke-width="0.9"/>
<rect x="127.70" y="826.00" width="5.40" height="5.40" fill="#fff" stroke="#222" stroke-width="0.9"/>
<rect x="131.70" y="823.00" width="5.40" height="5.40" fill="#fff" stroke="#222" stroke-width="0.9"/>
<rect x="132.90" y="829.30" width="5.40" height="5.40" fill="#fff" stroke="#222" stroke-width="0.9"/>
<rect x="134.70" y="826.30" width="5.40" height="5.40" fill="#fff" stroke="#222" stroke-width="0.9"/>
<rect x="151.70" y="726.50" width="5.40" height="5.40" fill="#fff" stroke="#222" stroke-width="0.9"/>
<rect x="149.30" y="770.10" width="5.40" height="5.40" fill="#fff" stroke="#222" stroke-width="0.9"/>
<rect x="155.90" y="772.30" width="5.40" height="5.40" fill="#fff" stroke="#222" stroke-width="0.9"/>
<rect x="148.40" y="783.10" width="5.40" height="5.40" fill="#fff" stroke="#222" stroke-width="0.9"/>
<rect x="154.70" y="781.30" width="5.40" height="5.40" fill="#fff" stroke="#222" stroke-width="0.9"/>
<rect x="176.60" y="829.80" width="5.40" height="5.40" fill="#fff" stroke="#222" stroke-width="0.9"/>
<rect x="180.90" y="829.80" width="5.40" height="5.40" fill="#fff" stroke="#222" stroke-width="0.9"/>
<rect x="185.10" y="829.80" width="5.40" height="5.40" fill="#fff" stroke="#222" stroke-width="0.9"/>
<rect x="187.30" y="829.80" width="5.40" height="5.40" fill="#fff" stroke="#222" stroke-width="0.9"/>
<rect x="203.40" y="821.80" width="5.40" height="5.40" fill="#fff" stroke="#222" stroke-width="0.9"/>
<rect x="200.30" y="825.50" width="5.40" height="5.40" fill="#fff" stroke="#222" stroke-width="0.9"/>
<rect x="209.30" y="825.00" width="5.40" height="5.40" fill="#fff" stroke="#222" stroke-width="0.9"/>
<rect x="201.00" y="832.50" width="5.40" height="5.40" fill="#fff" stroke="#222" stroke-width="0.9"/>
<rect x="207.30" y="832.30" width="5.40" height="5.40" fill="#fff" stroke="#222" stroke-width="0.9"/>
<rect x="204.00" y="828.30" width="5.40" height="5.40" fill="#fff" stroke="#222" stroke-width="0.9"/>
<rect x="221.60" y="830.50" width="5.40" height="5.40" fill="#fff" stroke="#222" stroke-width="0.9"/>
<rect x="228.30" y="827.30" width="5.40" height="5.40" fill="#fff" stroke="#222" stroke-width="0.9"/>
<rect x="224.60" y="833.50" width="5.40" height="5.40" fill="#fff" stroke="#222" stroke-width="0.9"/>
<rect x="229.60" y="835.30" width="5.40" height="5.40" fill="#fff" stroke="#222" stroke-width="0.9"/>
<rect x="226.30" y="830.30" width="5.40" height="5.40" fill="#fff" stroke="#222" stroke-width="0.9"/>
<rect x="243.50" y="788.10" width="5.40" height="5.40" fill="#fff" stroke="#222" stroke-width="0.9"/>
<rect x="249.30" y="788.10" width="5.40" height="5.40" fill="#fff" stroke="#222" stroke-width="0.9"/>
<rect x="254.80" y="788.10" width="5.40" height="5.40" fill="#fff" stroke="#222" stroke-width="0.9"/>
<rect x="249.80" y="793.10" width="5.40" height="5.40" fill="#fff" stroke="#222" stroke-width="0.9"/>
<rect x="246.80" y="799.80" width="5.40" height="5.40" fill="#fff" stroke="#222" stroke-width="0.9"/>
<rect x="272.30" y="829.30" width="5.40" height="5.40" fill="#fff" stroke="#222" stroke-width="0.9"/>
<rect x="274.80" y="831.80" width="5.40" height="5.40" fill="#fff" stroke="#222" stroke-width="0.9"/>
<rect x="278.50" y="829.30" width="5.40" height="5.40" fill="#fff" stroke="#222" stroke-width="0.9"/>
<rect x="282.80" y="829.30" width="5.40" height="5.40" fill="#fff" stroke="#222" stroke-width="0.9"/>
<rect x="295.30" y="814.30" width="5.40" height="5.40" fill="#fff" stroke="#222" stroke-width="0.9"/>
<rect x="300.30" y="815.10" width="5.40" height="5.40" fill="#fff" stroke="#222" stroke-width="0.9"/>
<rect x="305.30" y="809.30" width="5.40" height="5.40" fill="#fff" stroke="#222" stroke-width="0.9"/>
<rect x="296.80" y="823.80" width="5.40" height="5.40" fill="#fff" stroke="#222" stroke-width="0.9"/>
<rect x="301.80" y="823.00" width="5.40" height="5.40" fill="#fff" stroke="#222" stroke-width="0.9"/>
<rect x="316.80" y="828.00" width="5.40" height="5.40" fill="#fff" stroke="#222" stroke-width="0.9"/>
<rect x="323.00" y="827.30" width="5.40" height="5.40" fill="#fff" stroke="#222" stroke-width="0.9"/>
<rect x="326.80" y="826.30" width="5.40" height="5.40" fill="#fff" stroke="#222" stroke-width="0.9"/>
<rect x="317.30" y="830.50" width="5.40" height="5.40" fill="#fff" stroke="#222" stroke-width="0.9"/>
<rect x="340.50" y="744.40" width="5.40" height="5.40" fill="#fff" stroke="#222" stroke-width="0.9"/>
<rect x="336.00" y="758.90" width="5.40" height="5.40" fill="#fff" stroke="#222" stroke-width="0.9"/>
<rect x="344.30" y="766.90" width="5.40" height="5.40" fill="#fff" stroke="#222" stroke-width="0.9"/>
<rect x="338.00" y="788.60" width="5.40" height="5.40" fill="#fff" stroke="#222" stroke-width="0.9"/>
<rect x="343.90" y="786.10" width="5.40" height="5.40" fill="#fff" stroke="#222" stroke-width="0.9"/>
<rect x="365.90" y="830.00" width="5.40" height="5.40" fill="#fff" stroke="#222" stroke-width="0.9"/>
<rect x="372.10" y="830.00" width="5.40" height="5.40" fill="#fff" stroke="#222" stroke-width="0.9"/>
<rect x="375.90" y="830.00" width="5.40" height="5.40" fill="#fff" stroke="#222" stroke-width="0.9"/>
<rect x="379.10" y="830.00" width="5.40" height="5.40" fill="#fff" stroke="#222" stroke-width="0.9"/>
<rect x="392.60" y="815.10" width="5.40" height="5.40" fill="#fff" stroke="#222" stroke-width="0.9"/>
<rect x="389.60" y="820.00" width="5.40" height="5.40" fill="#fff" stroke="#222" stroke-width="0.9"/>
<rect x="395.90" y="821.80" width="5.40" height="5.40" fill="#fff" stroke="#222" stroke-width="0.9"/>
<rect x="395.90" y="827.50" width="5.40" height="5.40" fill="#fff" stroke="#222" stroke-width="0.9"/>
<rect x="392.30" y="831.00" width="5.40" height="5.40" fill="#fff" stroke="#222" stroke-width="0.9"/>
<rect x="411.00" y="830.00" width="5.40" height="5.40" fill="#fff" stroke="#222" stroke-width="0.9"/>
<rect x="417.80" y="828.80" width="5.40" height="5.40" fill="#fff" stroke="#222" stroke-width="0.9"/>
<rect x="419.30" y="833.00" width="5.40" height="5.40" fill="#fff" stroke="#222" stroke-width="0.9"/>
<rect x="411.00" y="836.00" width="5.40" height="5.40" fill="#fff" stroke="#222" stroke-width="0.9"/>
<rect x="414.80" y="837.50" width="5.40" height="5.40" fill="#fff" stroke="#222" stroke-width="0.9"/>
<rect x="436.00" y="748.90" width="5.40" height="5.40" fill="#fff" stroke="#222" stroke-width="0.9"/>
<rect x="434.30" y="775.60" width="5.40" height="5.40" fill="#fff" stroke="#222" stroke-width="0.9"/>
<rect x="433.00" y="783.10" width="5.40" height="5.40" fill="#fff" stroke="#222" stroke-width="0.9"/>
<rect x="438.50" y="791.90" width="5.40" height="5.40" fill="#fff" stroke="#222" stroke-width="0.9"/>
<rect x="434.30" y="797.60" width="5.40" height="5.40" fill="#fff" stroke="#222" stroke-width="0.9"/>
<rect x="462.30" y="829.30" width="5.40" height="5.40" fill="#fff" stroke="#222" stroke-width="0.9"/>
<rect x="466.00" y="829.30" width="5.40" height="5.40" fill="#fff" stroke="#222" stroke-width="0.9"/>
<rect x="470.30" y="828.00" width="5.40" height="5.40" fill="#fff" stroke="#222" stroke-width="0.9"/>
<rect x="471.80" y="830.30" width="5.40" height="5.40" fill="#fff" stroke="#222" stroke-width="0.9"/>
<rect x="481.00" y="826.00" width="5.40" height="5.40" fill="#fff" stroke="#222" stroke-width="0.9"/>
<rect x="487.30" y="826.00" width="5.40" height="5.40" fill="#fff" stroke="#222" stroke-width="0.9"/>
<rect x="493.50" y="825.00" width="5.40" height="5.40" fill="#fff" stroke="#222" stroke-width="0.9"/>
<rect x="490.30" y="825.30" width="5.40" height="5.40" fill="#fff" stroke="#222" stroke-width="0.9"/>
<rect x="503.50" y="829.30" width="5.40" height="5.40" fill="#fff" stroke="#222" stroke-width="0.9"/>
<rect x="508.50" y="828.80" width="5.40" height="5.40" fill="#fff" stroke="#222" stroke-width="0.9"/>
<rect x="514.60" y="829.30" width="5.40" height="5.40" fill="#fff" stroke="#222" stroke-width="0.9"/>
<rect x="516.60" y="828.00" width="5.40" height="5.40" fill="#fff" stroke="#222" stroke-width="0.9"/>
<rect x="526.60" y="718.20" width="5.40" height="5.40" fill="#fff" stroke="#222" stroke-width="0.9"/>
<rect x="533.50" y="715.20" width="5.40" height="5.40" fill="#fff" stroke="#222" stroke-width="0.9"/>
<rect x="527.60" y="731.20" width="5.40" height="5.40" fill="#fff" stroke="#222" stroke-width="0.9"/>
<rect x="533.50" y="734.90" width="5.40" height="5.40" fill="#fff" stroke="#222" stroke-width="0.9"/>
<rect x="530.80" y="749.40" width="5.40" height="5.40" fill="#fff" stroke="#222" stroke-width="0.9"/>
<rect x="552.50" y="831.00" width="5.40" height="5.40" fill="#fff" stroke="#222" stroke-width="0.9"/>
<rect x="558.80" y="831.00" width="5.40" height="5.40" fill="#fff" stroke="#222" stroke-width="0.9"/>
<rect x="563.80" y="830.00" width="5.40" height="5.40" fill="#fff" stroke="#222" stroke-width="0.9"/>
<rect x="568.30" y="831.00" width="5.40" height="5.40" fill="#fff" stroke="#222" stroke-width="0.9"/>
<rect x="582.50" y="806.10" width="5.40" height="5.40" fill="#fff" stroke="#222" stroke-width="0.9"/>
<rect x="576.70" y="814.30" width="5.40" height="5.40" fill="#fff" stroke="#222" stroke-width="0.9"/>
<rect x="585.70" y="816.10" width="5.40" height="5.40" fill="#fff" stroke="#222" stroke-width="0.9"/>
<rect x="588.70" y="811.80" width="5.40" height="5.40" fill="#fff" stroke="#222" stroke-width="0.9"/>
<rect x="580.70" y="826.00" width="5.40" height="5.40" fill="#fff" stroke="#222" stroke-width="0.9"/>
<rect x="597.50" y="828.50" width="5.40" height="5.40" fill="#fff" stroke="#222" stroke-width="0.9"/>
<rect x="603.30" y="828.00" width="5.40" height="5.40" fill="#fff" stroke="#222" stroke-width="0.9"/>
<rect x="607.50" y="828.00" width="5.40" height="5.40" fill="#fff" stroke="#222" stroke-width="0.9"/>
<rect x="610.00" y="827.50" width="5.40" height="5.40" fill="#fff" stroke="#222" stroke-width="0.9"/>
<rect x="623.80" y="693.30" width="5.40" height="5.40" fill="#fff" stroke="#222" stroke-width="0.9"/>
<rect x="620.80" y="700.00" width="5.40" height="5.40" fill="#fff" stroke="#222" stroke-width="0.9"/>
<rect x="625.80" y="712.00" width="5.40" height="5.40" fill="#fff" stroke="#222" stroke-width="0.9"/>
<rect x="623.80" y="723.30" width="5.40" height="5.40" fill="#fff" stroke="#222" stroke-width="0.9"/>
<rect x="620.00" y="730.30" width="5.40" height="5.40" fill="#fff" stroke="#222" stroke-width="0.9"/>
<line x1="124.2" y1="719.7" x2="152.9" y2="719.7" stroke="#444" stroke-width="1.1"/>
<path d="M126.35 708.25L126.35 717.15M130.20 710.48L122.50 714.93M130.20 714.93L122.50 710.48" stroke="#000" stroke-width="1.75" stroke-linecap="butt" fill="none"/>
<path d="M138.55 708.25L138.55 717.15M142.40 710.48L134.70 714.93M142.40 714.93L134.70 710.48" stroke="#000" stroke-width="1.75" stroke-linecap="butt" fill="none"/>
<path d="M150.75 708.25L150.75 717.15M154.60 710.48L146.90 714.93M154.60 714.93L146.90 710.48" stroke="#000" stroke-width="1.75" stroke-linecap="butt" fill="none"/>
<line x1="223.5" y1="781.3" x2="251.7" y2="781.3" stroke="#444" stroke-width="1.1"/>
<path d="M225.40 770.25L225.40 779.15M229.25 772.48L221.55 776.93M229.25 776.93L221.55 772.48" stroke="#000" stroke-width="1.75" stroke-linecap="butt" fill="none"/>
<path d="M237.60 770.25L237.60 779.15M241.45 772.48L233.75 776.93M241.45 776.93L233.75 772.48" stroke="#000" stroke-width="1.75" stroke-linecap="butt" fill="none"/>
<path d="M249.80 770.25L249.80 779.15M253.65 772.48L245.95 776.93M253.65 776.93L245.95 772.48" stroke="#000" stroke-width="1.75" stroke-linecap="butt" fill="none"/>
<line x1="275" y1="803.5" x2="300.7" y2="803.5" stroke="#444" stroke-width="1.1"/>
<path d="M281.75 793.35L281.75 802.25M285.60 795.57L277.90 800.02M285.60 800.02L277.90 795.57" stroke="#000" stroke-width="1.75" stroke-linecap="butt" fill="none"/>
<path d="M293.95 793.35L293.95 802.25M297.80 795.57L290.10 800.02M297.80 800.02L290.10 795.57" stroke="#000" stroke-width="1.75" stroke-linecap="butt" fill="none"/>
<line x1="318" y1="737.1" x2="347.3" y2="737.1" stroke="#444" stroke-width="1.1"/>
<path d="M320.45 724.45L320.45 733.35M324.30 726.67L316.60 731.12M324.30 731.12L316.60 726.67" stroke="#000" stroke-width="1.75" stroke-linecap="butt" fill="none"/>
<path d="M332.65 724.45L332.65 733.35M336.50 726.67L328.80 731.12M336.50 731.12L328.80 726.67" stroke="#000" stroke-width="1.75" stroke-linecap="butt" fill="none"/>
<path d="M344.85 724.45L344.85 733.35M348.70 726.67L341.00 731.12M348.70 731.12L341.00 726.67" stroke="#000" stroke-width="1.75" stroke-linecap="butt" fill="none"/>
<line x1="413.7" y1="738.4" x2="437" y2="738.4" stroke="#444" stroke-width="1.1"/>
<path d="M417.80 721.45L417.80 730.35M421.65 723.67L413.95 728.12M421.65 728.12L413.95 723.67" stroke="#000" stroke-width="1.75" stroke-linecap="butt" fill="none"/>
<path d="M430.00 721.45L430.00 730.35M433.85 723.67L426.15 728.12M433.85 728.12L426.15 723.67" stroke="#000" stroke-width="1.75" stroke-linecap="butt" fill="none"/>
<path d="M442.20 721.45L442.20 730.35M446.05 723.67L438.35 728.12M446.05 728.12L438.35 723.67" stroke="#000" stroke-width="1.75" stroke-linecap="butt" fill="none"/>
<line x1="506.8" y1="712.2" x2="530.3" y2="712.2" stroke="#444" stroke-width="1.1"/>
<path d="M505.30 701.55L505.30 710.45M509.15 703.77L501.45 708.23M509.15 708.23L501.45 703.77" stroke="#000" stroke-width="1.75" stroke-linecap="butt" fill="none"/>
<path d="M517.50 701.55L517.50 710.45M521.35 703.77L513.65 708.23M521.35 708.23L513.65 703.77" stroke="#000" stroke-width="1.75" stroke-linecap="butt" fill="none"/>
<path d="M529.70 701.55L529.70 710.45M533.55 703.77L525.85 708.23M533.55 708.23L525.85 703.77" stroke="#000" stroke-width="1.75" stroke-linecap="butt" fill="none"/>
<line x1="560.2" y1="794" x2="583.4" y2="794" stroke="#444" stroke-width="1.1"/>
<path d="M571.80 781.35L571.80 790.25M575.65 783.57L567.95 788.02M575.65 788.02L567.95 783.57" stroke="#000" stroke-width="1.75" stroke-linecap="butt" fill="none"/>
<line x1="600.6" y1="688" x2="628.8" y2="688" stroke="#444" stroke-width="1.1"/>
<path d="M604.70 676.05L604.70 684.95M608.55 678.27L600.85 682.73M608.55 682.73L600.85 678.27" stroke="#000" stroke-width="1.75" stroke-linecap="butt" fill="none"/>
<path d="M616.90 676.05L616.90 684.95M620.75 678.27L613.05 682.73M620.75 682.73L613.05 678.27" stroke="#000" stroke-width="1.75" stroke-linecap="butt" fill="none"/>
<path d="M629.10 676.05L629.10 684.95M632.95 678.27L625.25 682.73M632.95 682.73L625.25 678.27" stroke="#000" stroke-width="1.75" stroke-linecap="butt" fill="none"/>
<text x="49.3" y="211" font-size="16" text-anchor="start" font-weight="normal" font-style="normal" fill="#000">Epididymal fat</text>
<line x1="23" y1="216.3" x2="168.6" y2="216.3" stroke="#444" stroke-width="1.1"/>
<text x="205.5" y="211" font-size="16" text-anchor="start" font-weight="normal" font-style="normal" fill="#000">Mesenteric fat</text>
<line x1="183.6" y1="215.8" x2="331.3" y2="215.8" stroke="#444" stroke-width="1.1"/>
<text x="351" y="211.5" font-size="16" text-anchor="start" font-weight="normal" font-style="normal" fill="#000">Subcutaneous fat</text>
<line x1="341" y1="215.8" x2="488.8" y2="215.8" stroke="#444" stroke-width="1.1"/>
<text x="51.5" y="237.3" font-size="14.7" text-anchor="middle" font-weight="normal" font-style="normal" fill="#000">Control</text>
<text x="219.2" y="237.3" font-size="14.7" text-anchor="middle" font-weight="normal" font-style="normal" fill="#000">Control</text>
<text x="379.5" y="237.3" font-size="14.7" text-anchor="middle" font-weight="normal" font-style="normal" fill="#000">Control</text>
<text x="108" y="237.5" font-size="14.7"><tspan font-style="italic">Cd36</tspan><tspan font-size="9.5" dy="-5">ΔLEC</tspan></text>
<text x="268.5" y="237.5" font-size="14.7"><tspan font-style="italic">Cd36</tspan><tspan font-size="9.5" dy="-5">ΔLEC</tspan></text>
<text x="438.7" y="237.5" font-size="14.7"><tspan font-style="italic">Cd36</tspan><tspan font-size="9.5" dy="-5">ΔLEC</tspan></text>
<defs><filter id="bl" x="-5%" y="-5%" width="110%" height="110%"><feGaussianBlur stdDeviation="9"/></filter><filter id="bl2" x="-5%" y="-5%" width="110%" height="110%"><feGaussianBlur stdDeviation="4"/></filter><filter id="bl3" x="-20%" y="-20%" width="140%" height="140%"><feGaussianBlur stdDeviation="16"/></filter><pattern id="speck" width="40" height="40" patternUnits="userSpaceOnUse"><rect width="40" height="40" fill="#7391c8"/><circle cx="8" cy="10" r="5" fill="#a9bde0"/><circle cx="28" cy="26" r="4" fill="#9fb4dc"/><circle cx="30" cy="6" r="3" fill="#5b7bb5"/><circle cx="12" cy="32" r="3" fill="#5b7bb5"/></pattern></defs>
<clipPath id="cp10"><rect x="12" y="18" width="613" height="850"/></clipPath>
<g transform="translate(10,238) scale(0.12938)">
<g clip-path="url(#cp10)">
<rect x="0" y="0" width="700" height="900" fill="url(#speck)"/>
<g filter="url(#bl)">
<polygon points="55,0 540,0 555,160 575,320 600,360 625,360 625,560 560,380 500,330 440,290 380,210 330,150 290,200 250,310 180,420 110,560 0,640 0,470 60,420 110,250 80,60" fill="#4a4641"/>
<path d="M150 60 Q220 260 150 460" stroke="#77706a" stroke-width="40" fill="none"/>
<path d="M420 40 Q470 200 540 330" stroke="#6d665f" stroke-width="40" fill="none"/>
<polygon points="290,170 380,200 450,290 560,360 625,560 625,720 0,720 0,620 110,540 200,400 260,300" fill="#8c5a4c"/>
<polygon points="240,170 330,120 350,240 300,340 230,345" fill="#d2a797"/>
<ellipse cx="360" cy="350" rx="115" ry="70" fill="#6c1a22"/>
<ellipse cx="535" cy="400" rx="70" ry="85" fill="#cf9b8c"/>
<ellipse cx="150" cy="520" rx="60" ry="60" fill="#c99487"/>
<polygon points="0,590 140,575 260,650 400,630 600,560 640,580 640,900 0,900" fill="#d9b39f"/>
<ellipse cx="60" cy="760" rx="60" ry="120" fill="#a49585"/>
<ellipse cx="330" cy="800" rx="80" ry="60" fill="#c99585"/>
</g>
<g filter="url(#bl2)">
<ellipse cx="240" cy="490" rx="62" ry="55" fill="#b0933a"/>
<ellipse cx="230" cy="590" rx="58" ry="45" fill="#a88c36"/>
<ellipse cx="380" cy="500" rx="45" ry="95" fill="#b89c42"/>
<ellipse cx="470" cy="510" rx="70" ry="115" fill="#b0923c"/>
<ellipse cx="330" cy="610" rx="42" ry="50" fill="#ac8e38"/>
<ellipse cx="545" cy="520" rx="38" ry="80" fill="#a88c3a"/>
<ellipse cx="280" cy="680" rx="30" ry="40" fill="#a88a3a"/>
<ellipse cx="400" cy="650" rx="40" ry="35" fill="#957a45"/>
<ellipse cx="365" cy="470" rx="18" ry="40" fill="#d9c070"/><ellipse cx="455" cy="450" rx="25" ry="40" fill="#d6bc68"/><ellipse cx="220" cy="470" rx="25" ry="20" fill="#d2b665"/>
</g>
<path d="M20 585 L130 578 L200 650 L255 760 L235 865" fill="none" stroke="#fff" stroke-width="17" stroke-linecap="round" stroke-dasharray="0 27"/>
<path d="M20 625 L100 705 L165 795 L210 865" fill="none" stroke="#fff" stroke-width="17" stroke-linecap="round" stroke-dasharray="0 27"/>
<path d="M585 568 L612 690 L470 852 L430 845 L380 760 L470 690 L560 610" fill="none" stroke="#fff" stroke-width="17" stroke-linecap="round" stroke-dasharray="0 27"/>
</g>
<rect x="12" y="18" width="613" height="850" fill="none" stroke="#222" stroke-width="9"/>
</g>
<clipPath id="cp93"><rect x="18" y="18" width="587" height="850"/></clipPath>
<g transform="translate(93,238) scale(0.12938)">
<g clip-path="url(#cp93)">
<rect x="0" y="0" width="700" height="900" fill="url(#speck)"/>
<g filter="url(#bl)">
<polygon points="0,250 610,250 610,900 0,900" fill="#b07464"/>
<polygon points="70,0 565,0 575,200 565,320 470,295 400,275 300,285 220,320 120,335 80,300 65,150" fill="#3f3a36"/>
</g>
<g filter="url(#bl)" fill="none" stroke-linecap="round">
<path d="M120 60 Q250 30 380 90 Q450 130 470 220" stroke="#6c655d" stroke-width="40"/>
<path d="M150 150 Q260 90 360 140 Q420 180 430 250" stroke="#5e5750" stroke-width="36"/>
<path d="M100 230 Q200 160 300 200" stroke="#544e48" stroke-width="30"/>
<path d="M330 40 Q430 60 520 140" stroke="#78716a" stroke-width="30"/>
<path d="M200 260 Q300 230 400 250" stroke="#4e4843" stroke-width="26"/>
<path d="M450 60 Q500 150 540 250" stroke="#625b54" stroke-width="30"/>
</g>
<g filter="url(#bl)">
<polygon points="0,330 110,330 100,600 90,880 0,880" fill="#a86a5a"/>
<polygon points="530,300 610,290 610,880 545,880 565,600" fill="#b87868"/>
<ellipse cx="360" cy="310" rx="80" ry="35" fill="#b05a50"/>
<polygon points="95,345 240,335 300,330 420,320 550,345 570,480 555,650 540,800 400,820 260,820 110,790 100,600" fill="#e6cfb0"/>
<ellipse cx="200" cy="520" rx="85" ry="140" fill="#ecd6b8"/>
<ellipse cx="420" cy="540" rx="90" ry="150" fill="#ead2b2"/>
<ellipse cx="470" cy="410" rx="55" ry="40" fill="#cfba78"/>
<ellipse cx="180" cy="400" rx="50" ry="40" fill="#d8c290"/>
<ellipse cx="320" cy="640" rx="55" ry="50" fill="#d0a088"/>
<ellipse cx="330" cy="760" rx="60" ry="40" fill="#b06a60"/>
<ellipse cx="170" cy="700" rx="30" ry="40" fill="#c08878"/>
<ellipse cx="450" cy="580" rx="30" ry="25" fill="#f0e4c8"/>
<polygon points="0,815 610,805 610,900 0,900" fill="#b49a7c"/>
<polygon points="0,855 610,850 610,900 0,900" fill="#4a3a30"/>
</g>
<path d="M95 348 L170 345 L240 362 L285 420 L305 470 L340 420 L360 370 L400 348 L470 345 L545 360 L565 460 L505 470 L460 450 L480 540 L540 620 L550 760 L500 810 L400 800 L380 730 L320 690 L260 720 L250 800 L170 800 L110 760 L120 600 L150 530 L110 440 L95 348" fill="none" stroke="#fff" stroke-width="17" stroke-linecap="round" stroke-dasharray="0 27"/>
</g>
<rect x="18" y="18" width="587" height="850" fill="none" stroke="#222" stroke-width="9"/>
</g>
<clipPath id="cp175"><rect x="18" y="18" width="582" height="852"/></clipPath>
<g transform="translate(175,238) scale(0.12938)">
<g clip-path="url(#cp175)">
<rect x="0" y="0" width="700" height="900" fill="#dcdbd7"/>
<g filter="url(#bl)">
<path d="M20 110 L120 90 L220 110 L330 150 L420 230 L480 320 L490 440 L500 540 L460 620 L430 700 L350 770 L200 800 L60 820 L20 820 Z" fill="#dadad8"/>
<ellipse cx="150" cy="470" rx="120" ry="110" fill="#ece8e6"/>
<ellipse cx="45" cy="140" rx="60" ry="130" fill="#c8383a"/>
<path d="M20 250 L60 250 L70 860 L20 860 Z" fill="#d0706a"/>
<ellipse cx="40" cy="480" rx="28" ry="55" fill="#4a3a3a"/>
</g>
<g filter="url(#bl2)" stroke="#f2d6d2" stroke-width="18" fill="none">
<path d="M40 470 Q140.0 285.0 190 130"/>
<path d="M40 470 Q205.0 320.0 320 200"/>
<path d="M40 470 Q250.0 370.0 410 300"/>
<path d="M40 470 Q280.0 430.0 470 420"/>
<path d="M40 470 Q280.0 490.0 470 540"/>
<path d="M40 470 Q255.0 545.0 420 650"/>
<path d="M40 470 Q210.0 590.0 330 740"/>
<path d="M40 470 Q145.0 615.0 200 790"/>
<path d="M40 470 Q90.0 625.0 90 810"/>
</g>
<g filter="url(#bl2)" stroke="#e2b4b0" stroke-width="5" fill="none">
<path d="M40 470 Q170.0 300.0 250 160"/>
<path d="M40 470 Q235.0 345.0 380 250"/>
<path d="M40 470 Q275.0 405.0 460 370"/>
<path d="M40 470 Q285.0 460.0 480 480"/>
<path d="M40 470 Q270.0 520.0 450 600"/>
<path d="M40 470 Q235.0 570.0 380 700"/>
<path d="M40 470 Q175.0 605.0 260 770"/>
</g>
<g filter="url(#bl)"><path d="M30 60 C100 70 160 80 210 95 C230 60 260 60 290 80 C340 110 390 170 430 220 C470 270 505 320 515 400 C525 460 545 520 525 570 C500 620 470 680 450 730 C410 775 330 805 250 828 C170 842 90 850 20 860" stroke="#da5a3a" stroke-width="68" fill="none"/></g>
<g filter="url(#bl2)">
<circle cx="110" cy="70" r="30" fill="#c84030"/>
<circle cx="180" cy="85" r="30" fill="#d04a32"/>
<circle cx="250" cy="70" r="30" fill="#d85a38"/>
<circle cx="320" cy="105" r="30" fill="#dc6238"/>
<circle cx="380" cy="160" r="30" fill="#e06a3c"/>
<circle cx="440" cy="230" r="30" fill="#e2703e"/>
<circle cx="490" cy="300" r="30" fill="#e27440"/>
<circle cx="510" cy="390" r="30" fill="#e47a44"/>
<circle cx="525" cy="480" r="30" fill="#e47a44"/>
<circle cx="515" cy="570" r="30" fill="#e48048"/>
<circle cx="470" cy="660" r="30" fill="#e4844a"/>
<circle cx="430" cy="740" r="30" fill="#e08a4a"/>
<circle cx="340" cy="800" r="30" fill="#e08c48"/>
<circle cx="240" cy="830" r="30" fill="#dc9044"/>
<circle cx="140" cy="845" r="30" fill="#d89440"/>
<circle cx="60" cy="852" r="30" fill="#d89440"/>
</g>
<g filter="url(#bl2)" fill="#f6b08a" opacity="0.7">
<circle cx="140" cy="60" r="10"/>
<circle cx="280" cy="60" r="10"/>
<circle cx="400" cy="160" r="10"/>
<circle cx="480" cy="290" r="10"/>
<circle cx="515" cy="470" r="10"/>
<circle cx="480" cy="640" r="10"/>
<circle cx="420" cy="760" r="10"/>
<circle cx="250" cy="825" r="10"/>
</g>
</g>
<rect x="18" y="18" width="582" height="852" fill="none" stroke="#222" stroke-width="9"/>
</g>
<clipPath id="cp253"><rect x="22" y="25" width="586" height="850"/></clipPath>
<g transform="translate(253,238) scale(0.12938)">
<g clip-path="url(#cp253)">
<rect x="0" y="0" width="700" height="900" fill="#ebe5d9"/>
<ellipse cx="560" cy="120" rx="120" ry="140" fill="#f3eee4" filter="url(#bl3)"/>
<g filter="url(#bl)">
<path d="M20 20 L320 30 L430 110 L500 230 L530 360 L530 470 L490 560 L440 640 L370 700 L290 780 L200 860 L20 880 Z" fill="#efdcd6"/>
<path d="M20 20 L330 25 L380 90 L250 170 L130 240 L20 300 Z" fill="#dca29a"/>
<ellipse cx="60" cy="420" rx="45" ry="200" fill="#d4a49a"/>
<ellipse cx="95" cy="225" rx="42" ry="38" fill="#8a8e86"/>
<ellipse cx="30" cy="350" rx="12" ry="35" fill="#302020"/>
<path d="M250 330 L470 330 L490 420 L450 520 L390 620 L310 640 L270 520 Z" fill="#b9bdb9"/>
<ellipse cx="150" cy="620" rx="130" ry="220" fill="#f4eae6"/>
<ellipse cx="120" cy="820" rx="100" ry="60" fill="#e6d0c8"/>
</g>
<g filter="url(#bl)" fill="none" stroke-width="48">
<path d="M230 45 Q380 70 460 150 Q520 230 540 340 Q548 400 535 440" stroke="#e4aa9a"/>
<path d="M530 450 Q505 540 460 620 Q400 690 330 740 Q270 790 200 860" stroke="#c8923e"/>
</g>
<g filter="url(#bl2)" stroke="#f4e6e4" stroke-width="16" fill="none" opacity="0.9">
<path d="M170 430 L300 140"/>
<path d="M170 430 L400 230"/>
<path d="M170 430 L470 330"/>
<path d="M170 430 L490 450"/>
<path d="M170 430 L430 560"/>
<path d="M170 430 L350 650"/>
<path d="M170 430 L260 730"/>
</g>
</g>
<rect x="22" y="25" width="586" height="850" fill="none" stroke="#222" stroke-width="9"/>
</g>
<clipPath id="cp335"><rect x="25" y="15" width="583" height="855"/></clipPath>
<g transform="translate(335,238) scale(0.12938)">
<g clip-path="url(#cp335)">
<rect x="0" y="0" width="700" height="900" fill="#c89c68"/>
<g filter="url(#bl)">
<polygon points="20,0 170,0 150,120 110,260 60,380 20,420" fill="#8c8670"/>
<polygon points="160,0 350,0 360,300 330,460 240,440 150,300 130,150" fill="#d8c49a"/>
<ellipse cx="260" cy="200" rx="50" ry="150" fill="#e6d6a6"/>
<polygon points="20,420 120,300 230,420 330,470 370,880 20,880" fill="#d8a478"/>
<ellipse cx="230" cy="700" rx="100" ry="150" fill="#e2b088"/>
<polygon points="350,0 610,0 610,880 420,880 385,600 365,300" fill="#9c5e32"/>
<ellipse cx="500" cy="450" rx="70" ry="380" fill="#a8683a"/>
<path d="M365 0 Q385 400 420 880" stroke="#704226" stroke-width="22" fill="none"/>
<path d="M395 0 Q415 400 450 880" stroke="#cc8c62" stroke-width="35" fill="none" opacity="0.8"/>
<polygon points="20,380 45,390 60,600 45,880 20,880" fill="#1f2b40"/>
<polygon points="20,0 70,0 20,80" fill="#2a3a58"/>
</g>
<g filter="url(#bl2)" fill="#f4eed0" opacity="0.75">
<ellipse cx="230" cy="120" rx="12" ry="40"/>
<ellipse cx="300" cy="200" rx="10" ry="50"/>
<ellipse cx="260" cy="330" rx="15" ry="30"/>
<ellipse cx="200" cy="250" rx="8" ry="25"/>
<ellipse cx="320" cy="420" rx="10" ry="30"/>
<ellipse cx="450" cy="840" rx="60" ry="12"/>
<ellipse cx="300" cy="850" rx="50" ry="10"/>
</g>
<path d="M120 440 L220 430 L260 500 L210 600 L200 780 L170 850 L110 840 L100 700 L130 560 L120 440" fill="none" stroke="#fff" stroke-width="9" stroke-dasharray="26 14"/>
<polygon points="235,430 184.5,386.6 206.3,380.8 192.0,327.6 221.0,319.9 235.3,373.0 257.0,367.2" fill="#fff"/>
<polygon points="120,550 53.4,549.2 66.3,530.7 21.3,499.2 38.5,474.6 83.6,506.2 96.5,487.7" fill="#fff"/>
<polygon points="255,630 319.5,613.6 311.8,634.7 363.5,653.5 353.2,681.7 301.6,662.9 293.9,684.0" fill="#fff"/>
</g>
<rect x="25" y="15" width="583" height="855" fill="none" stroke="#222" stroke-width="9"/>
</g>
<clipPath id="cp415"><rect x="30" y="15" width="582" height="860"/></clipPath>
<g transform="translate(415,238) scale(0.12938)">
<g clip-path="url(#cp415)">
<rect x="0" y="0" width="700" height="900" fill="#dea27a"/>
<polygon points="420,0 700,0 700,700 600,620 540,420 480,200" fill="url(#speck)"/>
<g filter="url(#bl)">
<path d="M380 0 Q460 250 560 500 Q600 600 610 700" stroke="#3e352e" stroke-width="45" fill="none"/>
<ellipse cx="200" cy="250" rx="180" ry="220" fill="#e6a880"/>
<ellipse cx="120" cy="200" rx="80" ry="140" fill="#eebb98"/>
<ellipse cx="300" cy="450" rx="80" ry="100" fill="#c88860"/>
<ellipse cx="400" cy="620" rx="140" ry="120" fill="#dca080"/>
<ellipse cx="100" cy="650" rx="80" ry="150" fill="#d09068"/>
<polygon points="0,830 700,830 700,900 0,900" fill="#3a3028"/>
</g>
<path d="M380 440 L460 440 L490 490 L510 560 L520 650 L500 760 L400 780 L260 790 L180 770 L170 700 L230 650 L300 620 L370 600 L380 560 L350 540 L360 480 Z" fill="none" stroke="#fff" stroke-width="9" stroke-dasharray="26 14"/>
<polygon points="380,420 314.6,407.6 330.5,391.7 291.6,352.8 312.8,331.6 351.7,370.5 367.6,354.6" fill="#fff"/>
<polygon points="485,430 503.0,365.9 517.5,383.2 559.6,347.8 578.9,370.8 536.8,406.1 551.2,423.4" fill="#fff"/>
<polygon points="525,545 553.9,485.0 565.1,504.5 612.8,477.0 627.8,503.0 580.1,530.5 591.4,550.0" fill="#fff"/>
<polygon points="315,595 248.4,594.2 261.3,575.7 216.3,544.2 233.5,519.6 278.6,551.2 291.5,532.7" fill="#fff"/>
</g>
<rect x="30" y="15" width="582" height="860" fill="none" stroke="#222" stroke-width="9"/>
</g>
</svg></body></html>
